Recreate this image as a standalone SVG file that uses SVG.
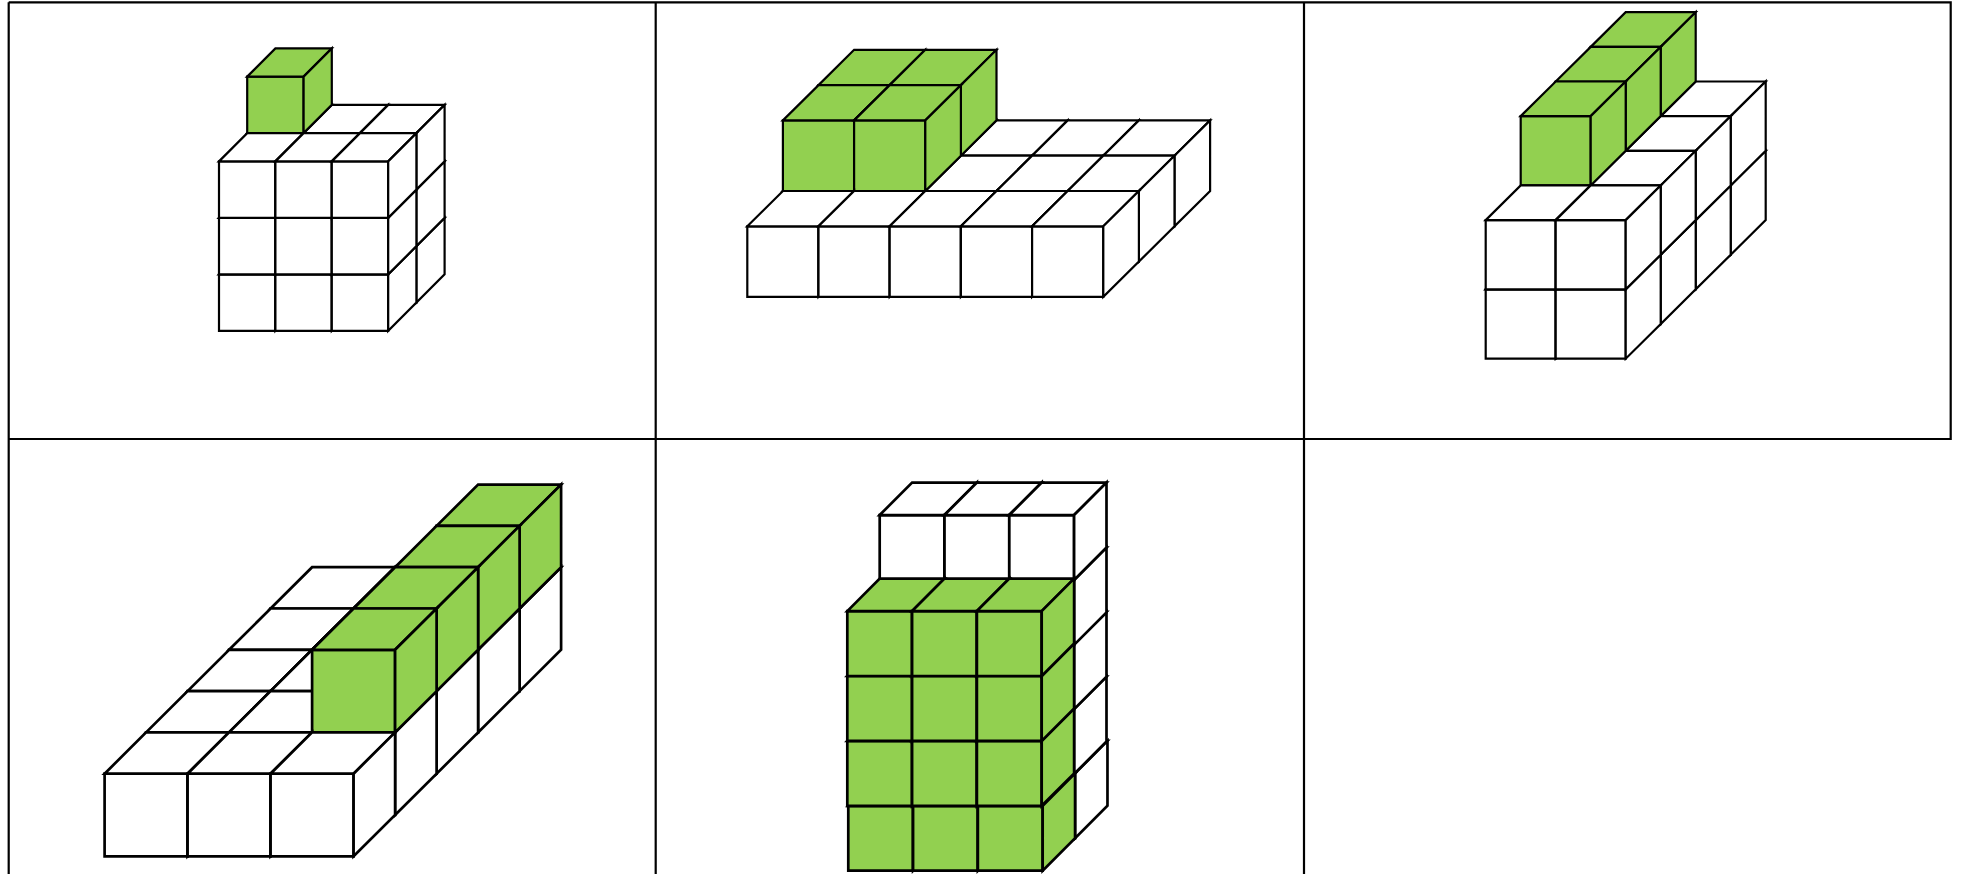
<svg xmlns="http://www.w3.org/2000/svg" width="1961" height="874" viewBox="0 0 1961 874">
<style>
.f{stroke:#000;stroke-linejoin:miter;vector-effect:non-scaling-stroke}
.w{fill:#fff}.g{fill:#92d050}
.r{stroke:#000;stroke-width:2.2;fill:none}
#stack-1,#stack-2,#stack-3{stroke-width:2.2}
#stack-4,#stack-5{stroke-width:2.7}
</style>
<defs>
<g id="W"><path class="f w" d="M0-1H1V0H0Z"/><path class="f w" d="M0-1L.5-1.5H1.5L1-1Z"/><path class="f w" d="M1-1L1.5-1.5V-.5L1 0Z"/></g>
<g id="G"><path class="f g" d="M0-1H1V0H0Z"/><path class="f g" d="M0-1L.5-1.5H1.5L1-1Z"/><path class="f g" d="M1-1L1.5-1.5V-.5L1 0Z"/></g>
</defs>
<rect width="1961" height="874" fill="#fff"/>
<g id="grid">
<path class="r" d="M8.7 2.3H1950.7V439H8.7M8.7 2.3V874M655.7 2.3V874M1304 2.3V874"/>
</g>
<g id="stack-1" transform="translate(219 330.9) scale(56.4 56.5)">
<use href="#W" x="2" y="-1.5"/>
<use href="#W" x="2.5" y="-.5"/>
<use href="#W" x="2.5" y="-1.5"/>
<use href="#W" x=".5" y="-2.5"/>
<use href="#W" x="1.5" y="-2.5"/>
<use href="#W" x="2.5" y="-2.5"/>
<use href="#G" x=".5" y="-3.5"/>
<use href="#W" x="0" y="0"/><use href="#W" x="1" y="0"/><use href="#W" x="2" y="0"/>
<use href="#W" x="0" y="-1"/><use href="#W" x="1" y="-1"/><use href="#W" x="2" y="-1"/>
<use href="#W" x="0" y="-2"/><use href="#W" x="1" y="-2"/><use href="#W" x="2" y="-2"/>
</g>
<g id="stack-2" transform="translate(747.3 296.9) scale(71.2 70.6)">
<use href="#W" x="1" y="-1"/><use href="#W" x="2" y="-1"/><use href="#W" x="3" y="-1"/><use href="#W" x="4" y="-1"/><use href="#W" x="5" y="-1"/>
<use href="#G" x="1" y="-2"/><use href="#G" x="2" y="-2"/>
<use href="#W" x=".5" y="-.5"/><use href="#W" x="1.5" y="-.5"/><use href="#W" x="2.5" y="-.5"/><use href="#W" x="3.5" y="-.5"/><use href="#W" x="4.5" y="-.5"/>
<use href="#G" x=".5" y="-1.5"/><use href="#G" x="1.5" y="-1.5"/>
<use href="#W" x="0" y="0"/><use href="#W" x="1" y="0"/><use href="#W" x="2" y="0"/><use href="#W" x="3" y="0"/><use href="#W" x="4" y="0"/>
</g>
<g id="stack-3" transform="translate(1485.7 358.7) scale(70 69.3)">
<use href="#W" x="2.5" y="-1.5"/><use href="#W" x="2.5" y="-2.5"/><use href="#G" x="1.5" y="-3.5"/>
<use href="#W" x="2" y="-1"/><use href="#W" x="2" y="-2"/><use href="#G" x="1" y="-3"/>
<use href="#W" x="1.5" y="-.5"/><use href="#W" x="1.5" y="-1.5"/><use href="#G" x=".5" y="-2.5"/>
<use href="#W" x="0" y="0"/><use href="#W" x="1" y="0"/>
<use href="#W" x="0" y="-1"/><use href="#W" x="1" y="-1"/>
</g>
<g id="stack-4" transform="translate(104.6 856.3) scale(83 82.6)">
<use href="#W" x="2" y="-2"/><use href="#W" x="3" y="-2"/><use href="#W" x="4" y="-2"/><use href="#G" x="4" y="-3"/>
<use href="#W" x="1.5" y="-1.5"/><use href="#W" x="2.5" y="-1.5"/><use href="#W" x="3.5" y="-1.5"/><use href="#G" x="3.5" y="-2.5"/>
<use href="#W" x="1" y="-1"/><use href="#W" x="2" y="-1"/><use href="#W" x="3" y="-1"/><use href="#G" x="3" y="-2"/>
<use href="#W" x=".5" y="-.5"/><use href="#W" x="1.5" y="-.5"/><use href="#W" x="2.5" y="-.5"/><use href="#G" x="2.5" y="-1.5"/>
<use href="#W" x="0" y="0"/><use href="#W" x="1" y="0"/><use href="#W" x="2" y="0"/>
</g>
<g id="stack-5" transform="translate(847.3 870.7) scale(64.8 64.9)">
<use href="#W" x=".515" y="-.5"/><use href="#W" x="1.515" y="-.5"/><use href="#W" x="2.515" y="-.5"/>
<use href="#W" x=".5" y="-1.49"/><use href="#W" x="1.5" y="-1.49"/><use href="#W" x="2.5" y="-1.49"/>
<use href="#W" x=".5" y="-2.49"/><use href="#W" x="1.5" y="-2.49"/><use href="#W" x="2.5" y="-2.49"/>
<use href="#W" x=".5" y="-3.48"/><use href="#W" x="1.5" y="-3.48"/><use href="#W" x="2.5" y="-3.48"/>
<use href="#W" x=".5" y="-4.48"/><use href="#W" x="1.5" y="-4.48"/><use href="#W" x="2.5" y="-4.48"/>
<use href="#G" x=".015" y="0"/><use href="#G" x="1.015" y="0"/><use href="#G" x="2.015" y="0"/>
<use href="#G" x="0" y="-1"/><use href="#G" x="1" y="-1"/><use href="#G" x="2" y="-1"/>
<use href="#G" x="0" y="-2"/><use href="#G" x="1" y="-2"/><use href="#G" x="2" y="-2"/>
<use href="#G" x="0" y="-3"/><use href="#G" x="1" y="-3"/><use href="#G" x="2" y="-3"/>
</g>
</svg>
